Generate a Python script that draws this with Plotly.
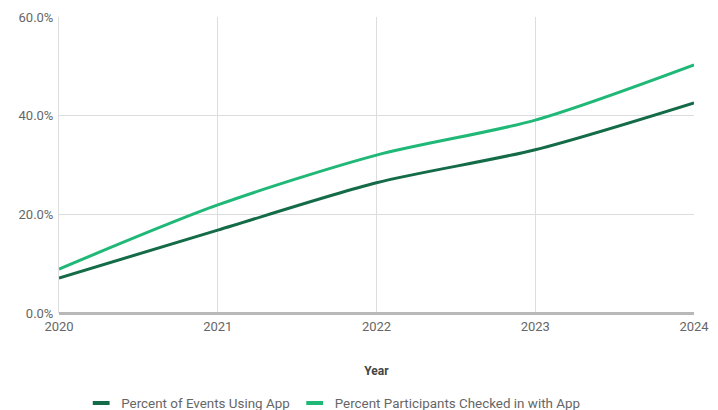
import plotly.graph_objects as go

years = [2020, 2021, 2022, 2023, 2024]
events_pct = [7.1, 16.8, 26.4, 33.1, 42.6]
participants_pct = [8.9, 21.9, 32.0, 39.1, 50.3]
series_names = ["Percent of Events Using App", "Percent Participants Checked in with App"]
colors = ["#146b48", "#1fb877"]
y_ticks = [0, 20, 40, 60]
y_tick_labels = ["0.0%", "20.0%", "40.0%", "60.0%"]

fig = go.Figure()
for name, vals, col in zip(series_names, [events_pct, participants_pct], colors):
    fig.add_trace(go.Scatter(x=years, y=vals, name=name, mode="lines", showlegend=False,
                             line=dict(color=col, width=3, shape="spline", smoothing=0.8)))
# legend entries with short swatches
for name, col in zip(series_names, colors):
    fig.add_trace(go.Scatter(x=[None], y=[None], name=name, mode="markers",
                             marker=dict(symbol="line-ew-open", size=12, color=col,
                                         line=dict(color=col, width=4))))

fig.update_layout(
    width=710, height=402,
    margin=dict(l=51, r=24, t=9, b=97),
    plot_bgcolor="white", paper_bgcolor="white",
    font=dict(family="Roboto, Arial, sans-serif", size=13, color="#666666"),
    xaxis=dict(range=[2020, 2024], tickvals=years, ticktext=[str(y) for y in years],
               showgrid=True, gridcolor="#dddddd", zeroline=False, automargin=False,
               ticklabelstandoff=4,
               title=dict(text="<b>Year</b>", font=dict(size=12, color="#444444"), standoff=33),
               ticks="", showline=False),
    yaxis=dict(range=[0, 60], tickvals=y_ticks, ticktext=y_tick_labels, automargin=False,
               showgrid=True, gridcolor="#dddddd", zeroline=True, zerolinecolor="#b8b8b8",
               zerolinewidth=3, showline=True, linecolor="#dddddd", ticks="",
               ticklabelstandoff=2),
    legend=dict(orientation="h", xref="container", yref="container",
                x=0.458, xanchor="center", y=0.017, yanchor="middle",
                font=dict(size=13.4, color="#666666"), itemwidth=30),
)
fig.write_html("out.html")
